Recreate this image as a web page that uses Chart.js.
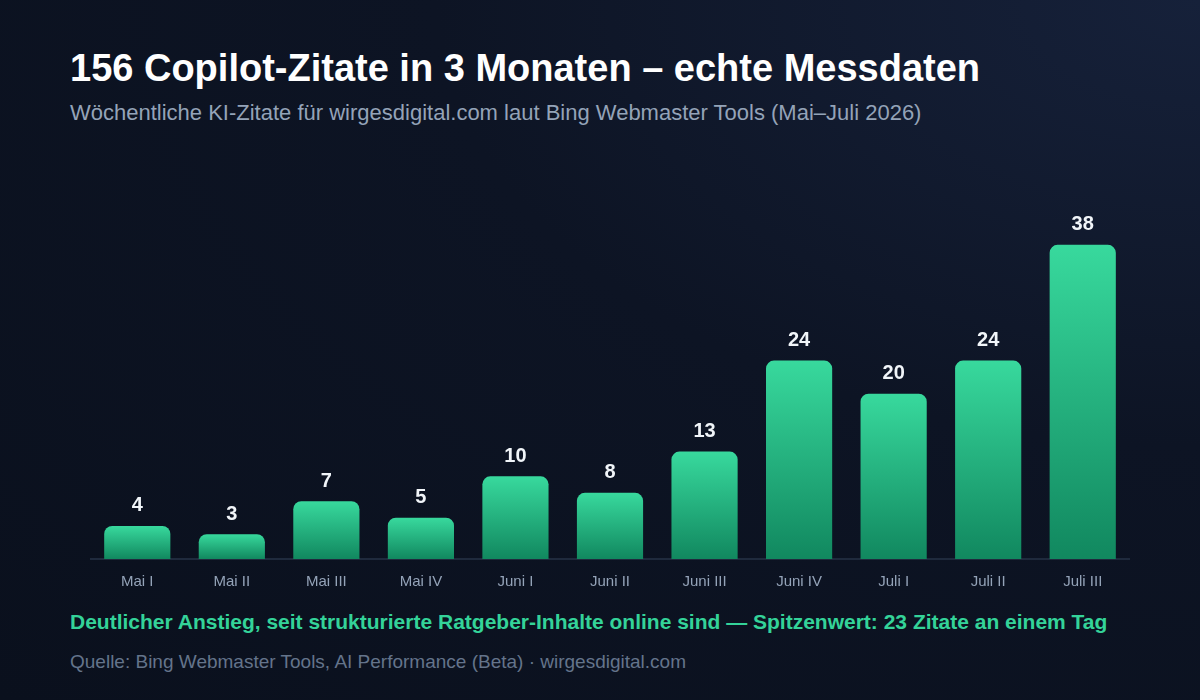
<!DOCTYPE html>
<html><head><meta charset="utf-8">
<script src="https://cdn.jsdelivr.net/npm/chart.js@4"></script>
<style>
html,body{margin:0;padding:0}
body{width:1200px;height:700px;position:relative;overflow:hidden;
 background:radial-gradient(ellipse at 100% 0%,#16213a 0%,#0d1424 45%,#0a101d 100%);
 font-family:"Liberation Sans",Arial,sans-serif}
#title{position:absolute;left:70px;top:47px;color:#fff;font-weight:bold;font-size:38px}
#sub{position:absolute;left:70px;top:100px;color:#94a3b8;font-size:22px}
#wrap{position:absolute;left:90px;top:187px;width:1040px;height:410px}
#note{position:absolute;left:70px;top:610px;color:#34d399;font-weight:bold;font-size:21px}
#src{position:absolute;left:70px;top:651px;color:#64748b;font-size:19px}
</style></head><body>
<div id="title">156 Copilot-Zitate in 3 Monaten – echte Messdaten</div>
<div id="sub">Wöchentliche KI-Zitate für wirgesdigital.com laut Bing Webmaster Tools (Mai–Juli 2026)</div>
<div id="wrap"><canvas id="c"></canvas></div>
<div id="note">Deutlicher Anstieg, seit strukturierte Ratgeber-Inhalte online sind — Spitzenwert: 23 Zitate an einem Tag</div>
<div id="src">Quelle: Bing Webmaster Tools, AI Performance (Beta) · wirgesdigital.com</div>
<script>
const weeks = ["Mai I","Mai II","Mai III","Mai IV","Juni I","Juni II","Juni III","Juni IV","Juli I","Juli II","Juli III"];
const citations = [4,3,7,5,10,8,13,24,20,24,38];

// Werte über den Balken
const valueLabels = {
  id: "valueLabels",
  afterDatasetsDraw(chart) {
    const ctx = chart.ctx;
    ctx.save();
    ctx.fillStyle = "#f1f5f9";
    ctx.font = "bold 20px 'Liberation Sans', Arial";
    ctx.textAlign = "center";
    ctx.textBaseline = "bottom";
    chart.getDatasetMeta(0).data.forEach((bar, i) => {
      ctx.fillText(citations[i], bar.x, bar.y - 10);
    });
    ctx.restore();
  }
};

new Chart(document.getElementById("c"), {
  type: "bar",
  data: {
    labels: weeks,
    datasets: [{
      data: citations,
      // Verlauf pro Balken: oben hell, unten dunkler
      backgroundColor: (c) => {
        const a = c.chart.chartArea;
        if (!a || c.dataIndex === undefined) return "#2fc88e";
        const top = c.chart.scales.y.getPixelForValue(citations[c.dataIndex]);
        const g = c.chart.ctx.createLinearGradient(0, top, 0, a.bottom);
        g.addColorStop(0, "#38d99d");
        g.addColorStop(1, "#11885f");
        return g;
      },
      borderRadius: { topLeft: 8, topRight: 8, bottomLeft: 0, bottomRight: 0 },
      borderSkipped: false,
      categoryPercentage: 1,
      barPercentage: 0.7
    }]
  },
  options: {
    responsive: true,
    maintainAspectRatio: false,
    animation: false,
    layout: { padding: 0 },
    plugins: { legend: { display: false }, tooltip: { enabled: false } },
    scales: {
      x: {
        grid: { display: false },
        border: { color: "#1f2a3d", width: 2 },
        ticks: { color: "#94a3b8", font: { size: 15, family: "'Liberation Sans', Arial" }, padding: 6 }
      },
      y: { display: false, min: 0, max: 45 }
    }
  },
  plugins: [valueLabels]
});
</script>
</body></html>
